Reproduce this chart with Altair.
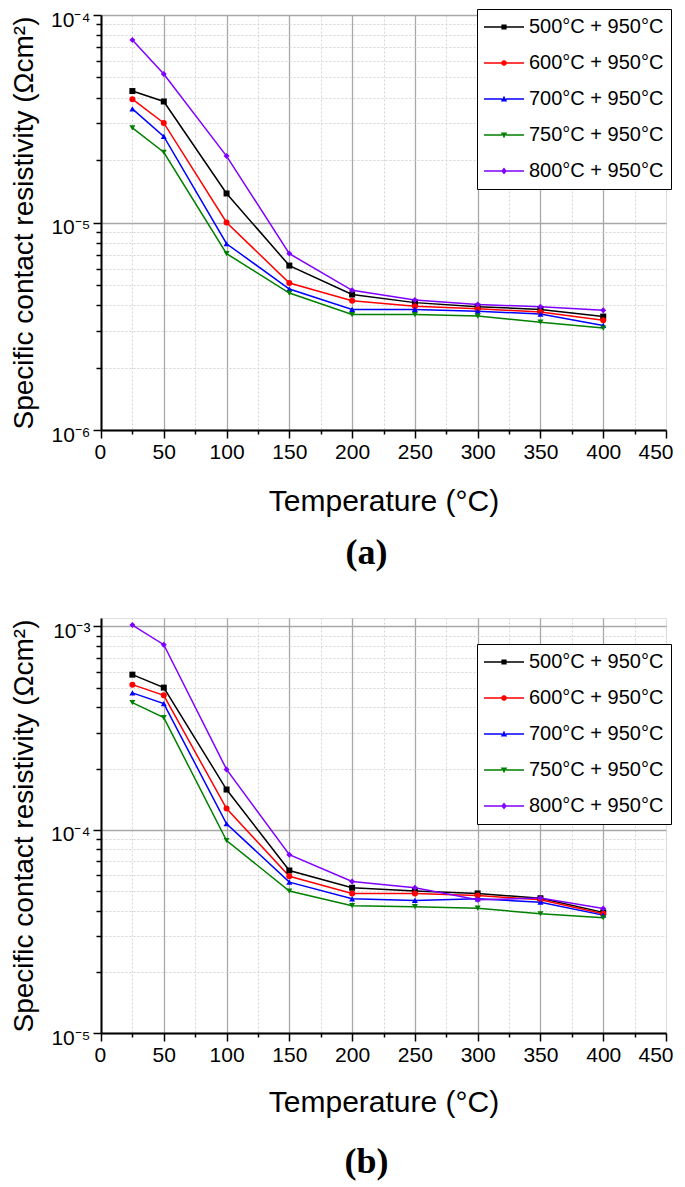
import altair as alt
import pandas as pd

temps = [25, 50, 100, 150, 200, 250, 300, 350, 400]
series = ["500°C + 950°C", "600°C + 950°C", "700°C + 950°C", "750°C + 950°C", "800°C + 950°C"]
colors = ["#000000", "#ff0000", "#0000ff", "#008000", "#8000ff"]
shapes = ["square", "circle", "triangle-up", "triangle-down", "diamond"]

# panel (a)
a_500 = [4.30e-5, 3.83e-5, 1.38e-5, 6.2e-6, 4.5e-6, 4.11e-6, 3.93e-6, 3.81e-6, 3.52e-6]
a_600 = [3.93e-5, 3.02e-5, 1.0e-5, 5.11e-6, 4.2e-6, 3.95e-6, 3.84e-6, 3.70e-6, 3.38e-6]
a_700 = [3.53e-5, 2.6e-5, 7.9e-6, 4.78e-6, 3.81e-6, 3.81e-6, 3.74e-6, 3.62e-6, 3.19e-6]
a_750 = [2.86e-5, 2.18e-5, 7.08e-6, 4.57e-6, 3.6e-6, 3.6e-6, 3.54e-6, 3.31e-6, 3.1e-6]
a_800 = [7.57e-5, 5.2e-5, 2.09e-5, 7.08e-6, 4.71e-6, 4.23e-6, 4.02e-6, 3.93e-6, 3.78e-6]

# panel (b)
b_500 = [5.79e-4, 5.0e-4, 1.576e-4, 6.3e-5, 5.18e-5, 4.99e-5, 4.86e-5, 4.6e-5, 3.92e-5]
b_600 = [5.17e-4, 4.58e-4, 1.27e-4, 5.9e-5, 4.86e-5, 4.86e-5, 4.75e-5, 4.52e-5, 3.86e-5]
b_700 = [4.71e-4, 4.17e-4, 1.07e-4, 5.52e-5, 4.57e-5, 4.49e-5, 4.57e-5, 4.4e-5, 3.8e-5]
b_750 = [4.22e-4, 3.56e-4, 8.85e-5, 4.99e-5, 4.23e-5, 4.18e-5, 4.11e-5, 3.86e-5, 3.69e-5]
b_800 = [1.016e-3, 8.13e-4, 1.98e-4, 7.53e-5, 5.56e-5, 5.18e-5, 4.52e-5, 4.61e-5, 4.1e-5]

x_ticks = list(range(0, 451, 25))
a_decades = [-6, -5, -4]
b_decades = [-5, -4, -3]

FONT = "Liberation Sans"

# legend symbol paths: short line with the series marker in the middle
LINE = "M-1,-0.0375H-0.1V0.0375H-1Z M0.1,-0.0375H1V0.0375H0.1Z "
legend_paths = [
    LINE + "M-0.13,-0.13H0.13V0.13H-0.13Z",
    LINE + "M0.15,0L0.106,0.106L0,0.15L-0.106,0.106L-0.15,0L-0.106,-0.106L0,-0.15L0.106,-0.106Z",
    LINE + "M0,-0.16L0.16,0.12L-0.16,0.12Z",
    LINE + "M0,0.16L-0.16,-0.12L0.16,-0.12Z",
    LINE + "M0,-0.18L0.14,0L0,0.18L-0.14,0Z",
]


def long_df(cols):
    rows = []
    for name, vals in zip(series, cols):
        for t, v in zip(temps, vals):
            rows.append({"temp": t, "value": v, "series": name})
    return pd.DataFrame(rows)


def y_ticks(decades):
    vals = []
    for d in decades[:-1]:
        for m in range(1, 10):
            vals.append(float(f"{m}e{d}"))
    vals.append(float(f"1e{decades[-1]}"))
    return vals


SUP = {"-": "⁻", "0": "⁰", "1": "¹", "2": "²", "3": "³", "4": "⁴",
       "5": "⁵", "6": "⁶", "7": "⁷", "8": "⁸", "9": "⁹"}


def y_label_expr(decades):
    expr = "''"
    for d in decades:
        lab = "10" + "".join(SUP[c] for c in str(d))
        expr = f"abs(log(datum.value)/LN10 - ({d})) < 0.001 ? '{lab}' : ({expr})"
    return expr


MAJOR_Y = "abs(log(datum.value)/LN10 - round(log(datum.value)/LN10)) < 0.001"
MAJOR_X = "datum.value % 50 == 0"


def panel(cols, decades, ydomain, legend_y, label, x_title_pad, label_offset):
    df = long_df(cols)
    xaxis = alt.Axis(
        values=x_ticks,
        labelExpr=f"{MAJOR_X} ? datum.label : ''",
        title="Temperature (°C)",
        titleFont=FONT, titleFontSize=30, titleFontWeight="normal", titleColor="black",
        titlePadding=x_title_pad,
        labelFont=FONT, labelFontSize=21, labelColor="black", labelPadding=3,
        labelFlush=True, labelFlushOffset=7, labelOverlap=False,
        domainColor="black", domainWidth=2,
        tickColor="black", tickWidth=1.5,
        tickSize={"condition": {"test": MAJOR_X, "value": 8}, "value": 4},
        grid=True,
        gridColor={"condition": {"test": MAJOR_X, "value": "#a8a8a8"}, "value": "#d4d4d4"},
        gridDash={"condition": {"test": MAJOR_X, "value": []}, "value": [2, 2]},
        gridWidth={"condition": {"test": MAJOR_X, "value": 1.3}, "value": 1},
        gridOpacity={"condition": {"test": "datum.value >= 450", "value": 0}, "value": 1},
    )
    yaxis = alt.Axis(
        values=y_ticks(decades),
        labelExpr=y_label_expr(decades),
        title="Specific contact resistivity (Ωcm²)",
        titleFont=FONT, titleFontSize=28, titleFontWeight="normal", titleColor="black",
        titlePadding=12,
        labelFont=FONT, labelFontSize=21, labelColor="black", labelPadding=3,
        labelOffset=5,
        labelFlush=False, labelOverlap=False,
        domainColor="black", domainWidth=2,
        tickColor="black", tickWidth=1.5,
        tickSize={"condition": {"test": MAJOR_Y, "value": 8}, "value": 5},
        grid=True,
        gridColor={"condition": {"test": MAJOR_Y, "value": "#a8a8a8"}, "value": "#d4d4d4"},
        gridDash={"condition": {"test": MAJOR_Y, "value": []}, "value": [2, 2]},
        gridWidth={"condition": {"test": MAJOR_Y, "value": 1.3}, "value": 1},
    )
    x = alt.X("temp:Q", scale=alt.Scale(domain=[0, 450], nice=False, zero=False), axis=xaxis)
    y = alt.Y("value:Q", scale=alt.Scale(type="log", domain=ydomain, nice=False), axis=yaxis)

    legend = alt.Legend(
        title=None, orient="none", legendX=376, legendY=legend_y,
        strokeColor="black", fillColor="white", padding=7,
        symbolSize=1600, symbolStrokeWidth=0, symbolOpacity=1,
        labelFont=FONT, labelFontSize=20, labelColor="black", labelOffset=5,
        labelLimit=400, rowPadding=14, clipHeight=22,
    )
    color_scale = alt.Scale(domain=series, range=colors)

    base = alt.Chart(df)
    lines = base.mark_line(strokeWidth=1.5).encode(
        x=x, y=y,
        color=alt.Color("series:N", scale=color_scale, legend=None),
    )
    points = base.mark_point(filled=True, size=36, opacity=1).encode(
        x=x, y=y,
        color=alt.Color("series:N", scale=color_scale, legend=None),
        shape=alt.Shape("series:N", scale=alt.Scale(domain=series, range=shapes), legend=None),
    )
    legend_layer = base.transform_filter("false").mark_point(filled=True, size=1600, opacity=1).encode(
        x=x, y=y,
        color=alt.Color("series:N", scale=color_scale, legend=legend),
        shape=alt.Shape("series:N", scale=alt.Scale(domain=series, range=legend_paths), legend=legend),
    )
    return alt.layer(lines, points, legend_layer).resolve_scale(
        color="independent", shape="independent"
    ).properties(
        width=565, height=415,
        title=alt.TitleParams(label, orient="bottom", font="Liberation Serif", fontSize=36,
                              fontWeight="bold", color="black", offset=label_offset, dx=-17),
    )


top = panel([a_500, a_600, a_700, a_750, a_800], a_decades, [1e-6, 1e-4], -6, "(a)", 24, 20)
bottom = panel([b_500, b_600, b_700, b_750, b_800], b_decades, [1e-5, 1.1e-3], 26, "(b)", 22, 28)

chart = alt.vconcat(top, bottom, spacing=188, bounds="flush").properties(
    padding={"left": 2, "top": 0, "right": 0, "bottom": 0}
).configure_view(stroke=None).configure(background="white")

chart.save("out.html", embed_options={"renderer": "svg", "actions": False})
